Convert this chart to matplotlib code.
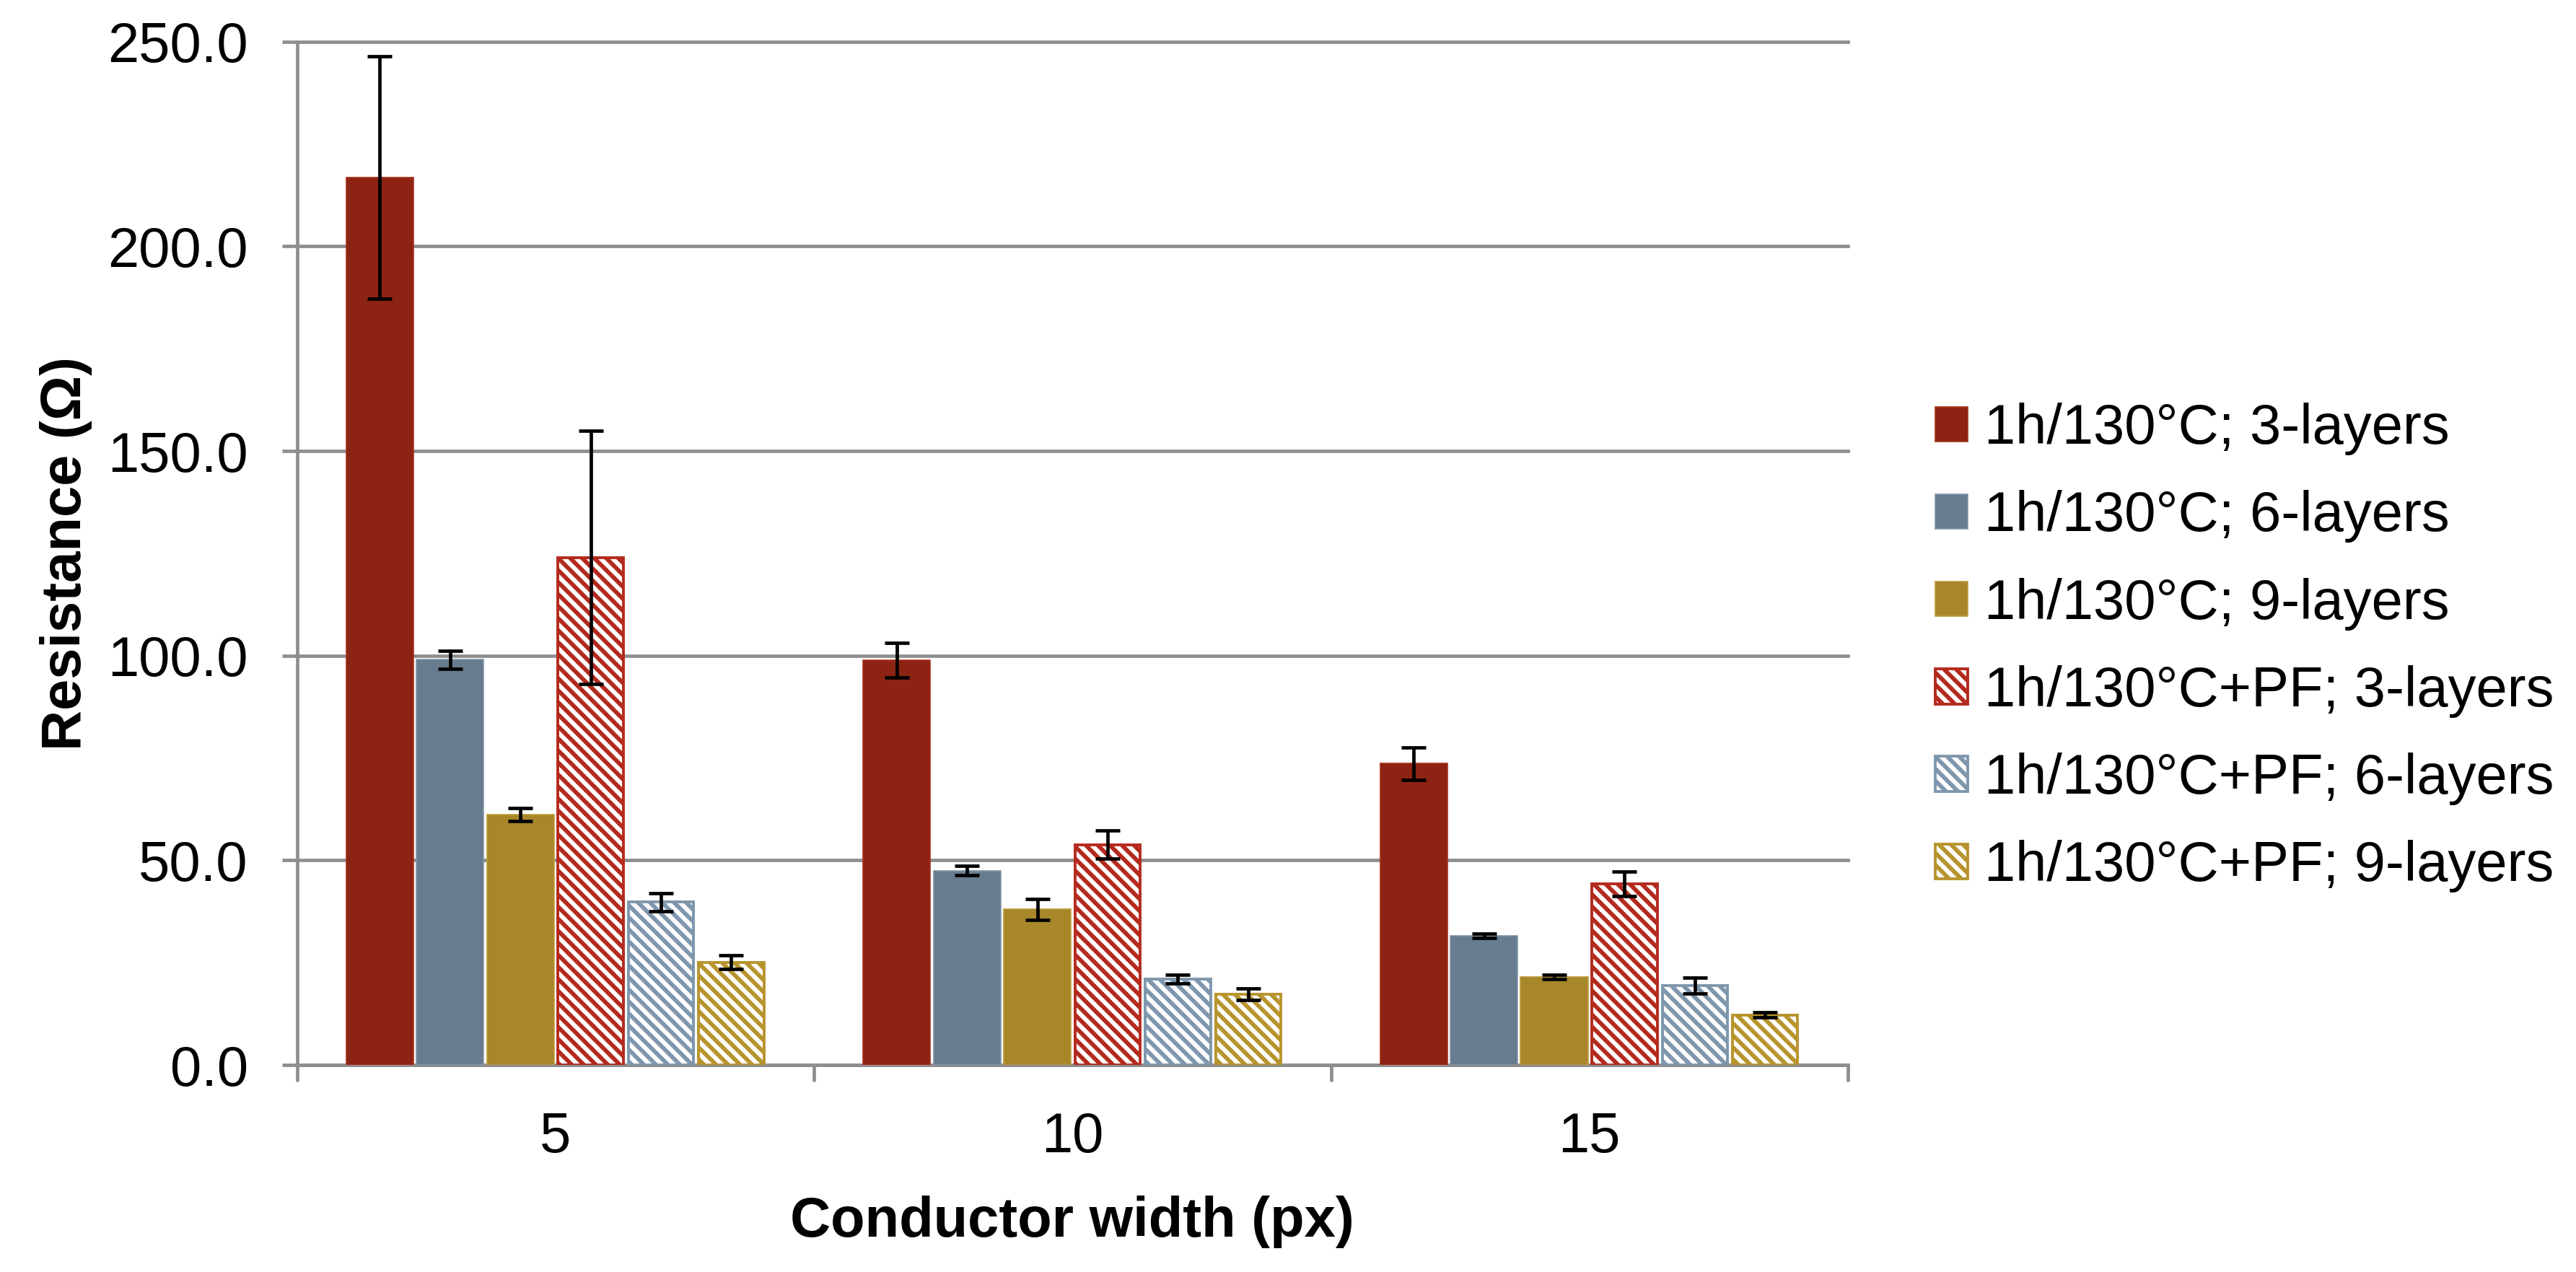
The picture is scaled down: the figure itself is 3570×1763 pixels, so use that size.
import matplotlib
matplotlib.use("Agg")
import matplotlib.pyplot as plt
import numpy as np
from matplotlib.patches import Patch
from matplotlib.ticker import FuncFormatter

plt.rcParams['font.family'] = ['Liberation Sans', 'DejaVu Sans']
plt.rcParams['hatch.linewidth'] = 4.2

categories = ['5', '10', '15']
series_names = ['1h/130°C; 3-layers', '1h/130°C; 6-layers', '1h/130°C; 9-layers',
                '1h/130°C+PF; 3-layers', '1h/130°C+PF; 6-layers', '1h/130°C+PF; 9-layers']
values_3l = [216.8, 98.9, 73.6]
values_6l = [99.0, 47.5, 31.6]
values_9l = [61.2, 38.0, 21.5]
values_pf_3l = [124.0, 53.8, 44.2]
values_pf_6l = [39.8, 21.0, 19.4]
values_pf_9l = [25.1, 17.2, 12.2]
err_3l = [29.6, 4.2, 4.0]
err_6l = [2.2, 1.2, 0.5]
err_9l = [1.6, 2.6, 0.5]
err_pf_3l = [31.0, 3.4, 3.0]
err_pf_6l = [2.2, 1.1, 2.0]
err_pf_9l = [1.7, 1.4, 0.6]

values = [values_3l, values_6l, values_9l, values_pf_3l, values_pf_6l, values_pf_9l]
errors = [err_3l, err_6l, err_9l, err_pf_3l, err_pf_6l, err_pf_9l]
colors = ['#8C2313', '#687C8F', '#A8872A', '#B42A1E', '#7F97AD', '#B8942E']
edge_solid = ['#A8301D', '#8196A8', '#BE9C3A']
hatched = [False, False, False, True, True, True]

fig = plt.figure(figsize=(35.7, 17.63), dpi=100)
ax = fig.add_axes([0.11532, 0.16279, 0.60204, 0.80448])

x = np.arange(len(categories))
step = 0.136
width = 0.13
handles = []
for i, (vals, errs, col, h) in enumerate(zip(values, errors, colors, hatched)):
    pos = x + (i - 2.5) * step
    if h:
        ax.bar(pos, vals, width=width - 0.004, facecolor='white', edgecolor=col,
               hatch='\\\\', linewidth=2.8, zorder=3)
        handles.append(Patch(facecolor='white', edgecolor=col, hatch='\\\\', linewidth=2.8,
                             label=series_names[i]))
    else:
        ax.bar(pos, vals, width=width, color=col, edgecolor=edge_solid[i],
               linewidth=1.2, zorder=3)
        handles.append(Patch(facecolor=col, edgecolor=edge_solid[i], linewidth=1.2,
                             label=series_names[i]))
    ax.errorbar(pos, vals, yerr=errs, fmt='none', ecolor='black', elinewidth=3.4,
                capsize=12.5, capthick=3.4, zorder=4)

grid_col = '#8E8E8E'
ax.set_ylim(0, 250)
ax.set_xlim(-0.5, 2.5)
ax.set_yticks(np.arange(0, 251, 50))
ax.yaxis.set_major_formatter(FuncFormatter(lambda v, p: f'{v:.1f}'))
ax.yaxis.grid(True, color=grid_col, linewidth=3.4, zorder=0)
for gl in ax.get_ygridlines():
    gl.set_clip_on(False)
ax.set_axisbelow(True)

ax.set_xticks([-0.5, 0.5, 1.5, 2.5])
ax.set_xticklabels([])
ax.set_xticks(x, minor=True)
ax.set_xticklabels(categories, minor=True)
ax.tick_params(axis='x', which='major', direction='out', length=16.5, width=3.4, color=grid_col)
ax.tick_params(axis='x', which='minor', length=0, pad=46, labelsize=56)
ax.tick_params(axis='y', direction='out', length=15, width=3.4, color=grid_col,
               pad=34, labelsize=56)

for s in ['top', 'right']:
    ax.spines[s].set_visible(False)
for s in ['left', 'bottom']:
    ax.spines[s].set_color(grid_col)
    ax.spines[s].set_linewidth(3.4)

ax.set_ylabel('Resistance (Ω)', fontsize=56, fontweight='bold')
ax.yaxis.set_label_coords(-0.149, 0.5)
ax.yaxis.label.set_va('center')
ax.set_xlabel('Conductor width (px)', fontsize=56, fontweight='bold')
ax.xaxis.set_label_coords(0.5, -0.153)
ax.xaxis.label.set_va('center')

leg = fig.legend(handles=handles, loc='center left',
                 bbox_to_anchor=(2682 / 3570, 1 - 897.75 / 1763),
                 frameon=False, fontsize=56, handlelength=0.58, handleheight=0.58,
                 handletextpad=0.3, labelspacing=0.62, borderpad=0, borderaxespad=0)

fig.savefig('out.png', dpi=100, facecolor='white')
